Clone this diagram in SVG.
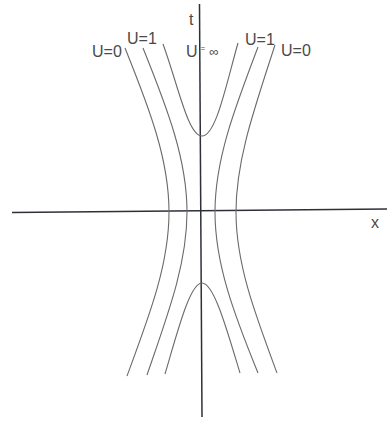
<svg xmlns="http://www.w3.org/2000/svg" width="387" height="422" viewBox="0 0 387 422">
<style>
.axis{stroke:#2e3038;stroke-width:1.5;fill:none}
.curve{stroke:#6a6a6a;stroke-width:1.1;fill:none}
text{font-family:"Liberation Sans",Arial,sans-serif;fill:#4a4a4a;font-size:16px}
</style>
<rect width="387" height="422" fill="#fff"/>
<g id="axes">
<line id="t-axis" class="axis" x1="199.5" y1="4" x2="202" y2="417"/>
<line id="x-axis" class="axis" x1="12" y1="212.5" x2="387" y2="209"/>
</g>
<g id="curves">
<path id="left-U0" class="curve" d="M125,48 C150,110 169,160 169,212 S150,314 127,376"/>
<path id="left-U1" class="curve" d="M143,48 C168,110 187,160 187,212 S168,314 147,375"/>
<path id="right-U1" class="curve" d="M258,47 C234,110 215,160 215,212 S234,314 258,373"/>
<path id="right-U0" class="curve" d="M275,45 C254,110 236,160 236,212 S255,314 277,373"/>
<path id="upper-Uinf" class="curve" d="M163,44 C178,85 188,136 202,136 C216,136 226,85 238,43"/>
<path id="lower-Uinf" class="curve" d="M165,374 C178,330 190,283 202,283 C214,283 227,330 240,373"/>
</g>
<g id="labels">
<text x="189" y="25" font-size="15.5">t</text>
<text x="371" y="228" font-size="12.5">x</text>
<text x="92" y="57">U=0</text>
<text x="127" y="44">U=1</text>
<text x="245" y="45">U=1</text>
<text x="281" y="56">U=0</text>
<text x="186" y="57">U<tspan font-size="8" dx="3" dy="-6">=</tspan><tspan font-size="13" dx="4" dy="5">∞</tspan></text>
</g>
</svg>
